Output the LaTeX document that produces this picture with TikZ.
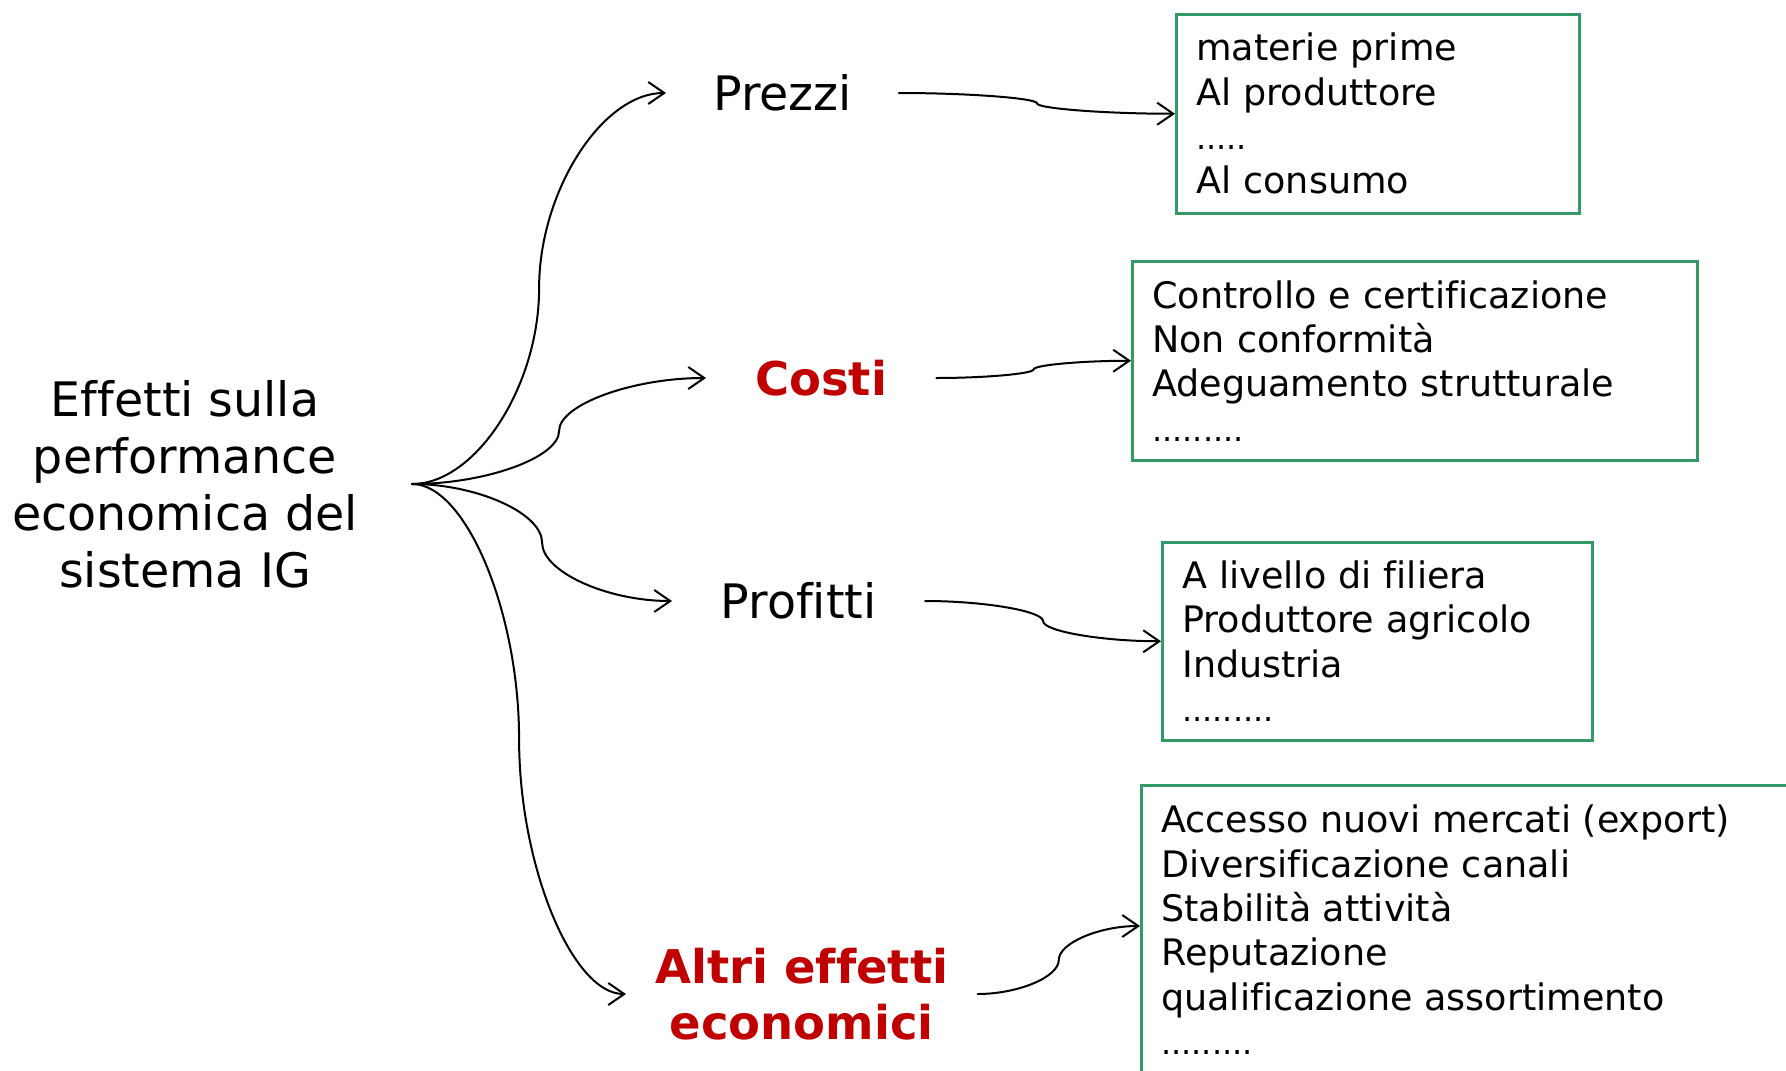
\documentclass[tikz,border=0pt]{standalone}
\usepackage{fontspec}
\setmainfont{DejaVu Sans}[Ligatures=NoCommon]
\usetikzlibrary{arrows.meta,calc}
\definecolor{boxgreen}{RGB}{51,153,102}
\definecolor{redtxt}{RGB}{192,0,0}
\begin{document}
\begin{tikzpicture}[x=1pt,y=-1pt,
  conn/.style={line width=2pt, line cap=round,
    -{Straight Barb[length=16pt,width=22pt]},
    to path={let \p1=(\tikztostart), \p2=(\tikztotarget) in
      .. controls ({0.75*\x1+0.25*\x2},\y1) and ({0.5*\x1+0.5*\x2},{0.75*\y1+0.25*\y2})
      .. ({0.5*\x1+0.5*\x2},{0.5*\y1+0.5*\y2})
      .. controls ({0.5*\x1+0.5*\x2},{0.25*\y1+0.75*\y2}) and ({0.25*\x1+0.75*\x2},\y2)
      .. (\p2) \tikztonodes}},
  lbl/.style={font=\fontsize{47.5}{57}\selectfont, inner ysep=0pt},
  redlbl/.style={font=\fontsize{46.5}{56}\selectfont\bfseries, text=redtxt, align=center, inner ysep=0pt},
  boxbase/.style={draw=boxgreen, line width=2.5pt, anchor=north west,
    inner xsep=20pt, inner ysep=0pt, font=\fontsize{36.5}{44.3}\selectfont},
  infobox/.style={boxbase, align=left}
]
\newcommand{\smalldots}[1]{{\fontsize{32}{44.3}\selectfont #1}}
\useasboundingbox (0,0) rectangle (1786,1071);
\fill[white] (0,0) rectangle (1786,1071);
\clip (0,0) rectangle (1786,1071);

% left source
\node[lbl, align=center, inner xsep=54pt] (src) at (185,484)
  {Effetti sulla\\performance\\economica del\\sistema IG};

% middle labels
\node[lbl, anchor=west, inner xsep=47pt] (prezzi) at (666,93) {Prezzi};
\node[redlbl, anchor=west, inner xsep=49pt] (costi) at (706,378) {Costi};
\node[lbl, anchor=west, inner xsep=48.5pt] (profitti) at (672,601) {Profitti};
\node[redlbl, anchor=west, inner xsep=29pt] (altri) at (626,994) {Altri effetti\\economici};

% boxes
\node[infobox, text width=363pt, minimum height=199pt] (box1) at (1175,13)
  {materie prime\\Al produttore\\\smalldots{.....}\\Al consumo};
\node[infobox, text width=525pt, minimum height=199pt] (box2) at (1131,260)
  {Controllo e certificazione\\Non conformità\\Adeguamento strutturale\\\smalldots{.........}};
\node[infobox, text width=390pt, minimum height=198pt] (box3) at (1161,541)
  {A livello di filiera\\Produttore agricolo\\Industria\\\smalldots{.........}};
\node[boxbase, inner ysep=20pt] (box4) at (1140,784)
  {\parbox[t][300pt][t]{700pt}{\raggedright Accesso nuovi mercati (export)\\Diversificazione canali\\Stabilità attività\\Reputazione\\qualificazione assortimento\\\smalldots{.........}}};
\coordinate (b4in) at ([yshift=-142pt]box4.north west);

% connectors
\draw[conn] (src.east) to (prezzi.west);
\draw[conn] (src.east) to (costi.west);
\draw[conn] (src.east) to (profitti.west);
\draw[conn] (src.east) to (altri.west);
\draw[conn] (prezzi.east) to (box1.west);
\draw[conn] (costi.east) to (box2.west);
\draw[conn] (profitti.east) to (box3.west);
\draw[conn] (altri.east) to (b4in);
\end{tikzpicture}
\end{document}
